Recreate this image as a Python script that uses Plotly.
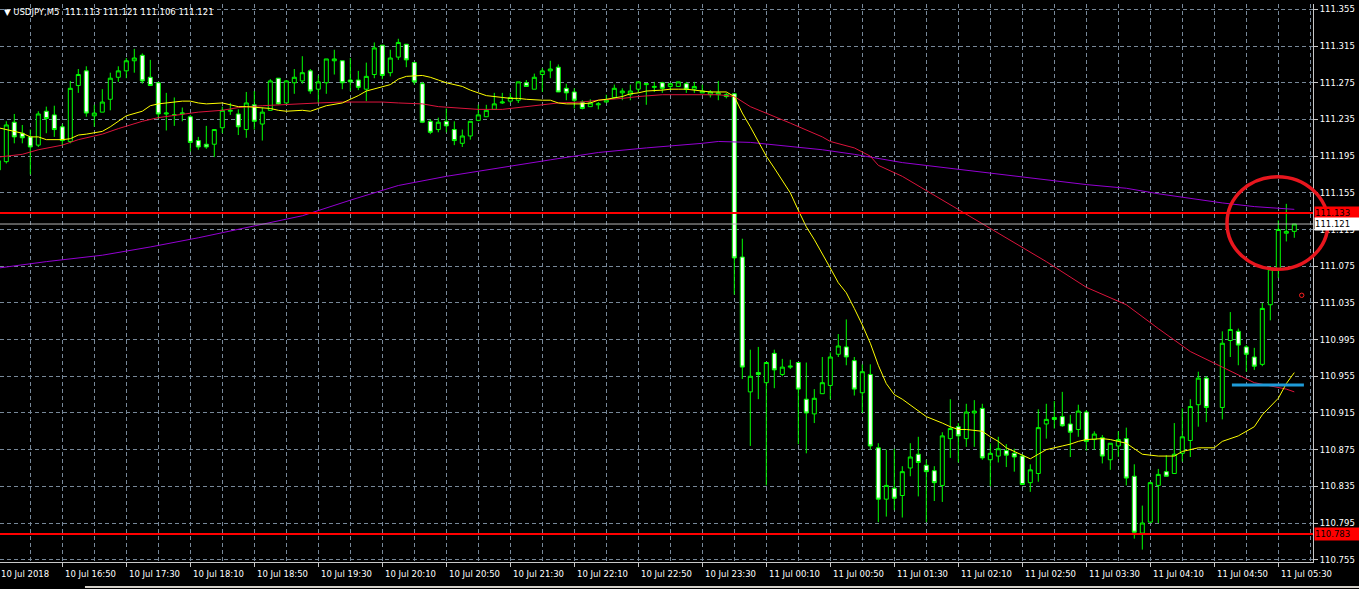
import plotly.graph_objects as go

# ---------------- data ----------------
candle_idx = list(range(163))  # M5 bars, 10 Jul 16:10 ... 11 Jul 05:40

opens = [
    111.180, 111.189, 111.232, 111.220, 111.216, 111.207, 111.244, 111.240, 111.227, 111.211,
    111.272, 111.288, 111.239, 111.243, 111.257, 111.281, 111.288, 111.299, 111.305, 111.281,
    111.275, 111.241, 111.240, 111.241, 111.238, 111.212, 111.208, 111.208, 111.226, 111.244,
    111.241, 111.224, 111.251, 111.230, 111.245, 111.280, 111.253, 111.275, 111.277, 111.288,
    111.268, 111.275, 111.299, 111.299, 111.278, 111.278, 111.268, 111.284, 111.316, 111.286,
    111.303, 111.317, 111.297, 111.274, 111.233, 111.224, 111.233, 111.224, 111.209, 111.217,
    111.234, 111.238, 111.246, 111.253, 111.255, 111.256, 111.275, 111.268, 111.284, 111.288,
    111.292, 111.269, 111.265, 111.254, 111.249, 111.251, 111.254, 111.259, 111.264, 111.262,
    111.268, 111.273, 111.270, 111.275, 111.271, 111.271, 111.274, 111.268, 111.264, 111.262,
    111.262, 111.262, 111.263, 111.085, 110.938, 110.959, 110.948, 110.980, 110.957, 110.965,
    110.970, 110.930, 110.914, 110.936, 110.945, 110.979, 110.987, 110.972, 110.937, 110.957,
    110.877, 110.821, 110.833, 110.825, 110.855, 110.870, 110.858, 110.852, 110.836, 110.887,
    110.900, 110.887, 110.915, 110.920, 110.864, 110.868, 110.874, 110.871, 110.868, 110.839,
    110.849, 110.903, 110.910, 110.911, 110.903, 110.897, 110.916, 110.886, 110.888, 110.864,
    110.879, 110.887, 110.846, 110.784, 110.796, 110.836, 110.851, 110.849, 110.871, 110.885,
    110.924, 110.953, None, 110.921, 110.994, 111.004, 110.987, 110.976, 110.968, 111.033,
    111.072, 111.111, 111.113]

highs = [
    111.193, 111.233, 111.241, 111.229, 111.224, 111.244, 111.249, 111.250, 111.230, 111.277,
    111.290, 111.293, 111.251, 111.268, 111.286, 111.293, 111.302, 111.312, 111.307, 111.300,
    111.276, 111.264, 111.259, 111.248, 111.240, 111.216, 111.228, 111.224, 111.249, 111.253,
    111.246, 111.265, 111.266, 111.248, 111.279, 111.280, 111.278, 111.290, 111.304, 111.290,
    111.283, 111.301, 111.311, 111.299, 111.302, 111.288, 111.297, 111.319, 111.316, 111.311,
    111.323, 111.317, 111.297, 111.276, 111.235, 111.237, 111.247, 111.233, 111.224, 111.233,
    111.251, 111.251, 111.264, 111.264, 111.264, 111.276, 111.278, 111.285, 111.291, 111.299,
    111.295, 111.274, 111.269, 111.256, 111.257, 111.254, 111.262, 111.273, 111.269, 111.273,
    111.276, 111.274, 111.276, 111.276, 111.275, 111.276, 111.276, 111.276, 111.273, 111.267,
    111.277, 111.264, 111.264, 111.105, 110.984, 110.987, 110.970, 110.984, 110.974, 110.973,
    110.970, 110.970, 110.941, 110.976, 110.981, 111.001, 111.017, 110.976, 110.968, 110.968,
    110.882, 110.875, 110.876, 110.857, 110.882, 110.889, 110.864, 110.857, 110.894, 110.930,
    110.904, 110.925, 110.929, 110.925, 110.882, 110.889, 110.881, 110.876, 110.870, 110.859,
    110.919, 110.925, 110.928, 110.938, 110.913, 110.924, 110.918, 110.895, 110.891, 110.882,
    110.895, 110.899, 110.859, 110.814, 110.840, 110.854, 110.869, 110.904, 110.920, 110.930,
    110.960, 110.955, None, 111.004, 111.025, 111.007, 110.989, 110.986, 111.035, 111.075,
    111.125, 111.143, 111.121]

lows = [
    111.178, 111.187, 111.209, 111.209, 111.175, 111.205, 111.220, 111.216, 111.207, 111.209,
    111.264, 111.238, 111.227, 111.243, 111.245, 111.276, 111.280, 111.286, 111.274, 111.272,
    111.236, 111.223, 111.228, 111.233, 111.200, 111.202, 111.203, 111.194, 111.220, 111.240,
    111.218, 111.215, 111.224, 111.212, 111.245, 111.251, 111.253, 111.263, 111.274, 111.263,
    111.253, 111.263, 111.284, 111.268, 111.266, 111.267, 111.255, 111.280, 111.279, 111.282,
    111.300, 111.292, 111.273, 111.231, 111.219, 111.221, 111.221, 111.207, 111.205, 111.213,
    111.233, 111.238, 111.246, 111.252, 111.253, 111.253, 111.271, 111.268, 111.265, 111.280,
    111.265, 111.256, 111.247, 111.246, 111.249, 111.246, 111.254, 111.258, 111.256, 111.256,
    111.264, 111.251, 111.265, 111.264, 111.267, 111.271, 111.264, 111.264, 111.264, 111.259,
    111.256, 111.258, 111.044, 110.952, 110.879, 110.930, 110.836, 110.942, 110.955, 110.963,
    110.881, 110.871, 110.904, 110.936, 110.930, 110.976, 110.967, 110.934, 110.915, 110.875,
    110.796, 110.802, 110.809, 110.801, 110.846, 110.824, 110.796, 110.819, 110.818, 110.866,
    110.861, 110.878, 110.878, 110.864, 110.835, 110.861, 110.856, 110.851, 110.837, 110.829,
    110.840, 110.887, 110.898, 110.900, 110.867, 110.889, 110.874, 110.875, 110.860, 110.853,
    110.867, 110.836, 110.778, 110.766, 110.795, 110.795, 110.846, 110.849, 110.862, 110.867,
    110.900, 110.905, None, 110.908, 110.976, 110.967, 110.960, 110.962, 110.966, 111.016,
    111.062, 111.102, 111.106]

closes = [
    111.190, 111.229, 111.216, 111.215, 111.205, 111.241, 111.236, 111.224, 111.212, 111.269,
    111.284, 111.242, 111.242, 111.254, 111.280, 111.288, 111.299, 111.302, 111.277, 111.272,
    111.241, 111.242, 111.240, 111.242, 111.210, 111.205, 111.205, 111.224, 111.245, 111.245,
    111.227, 111.253, 111.233, 111.243, 111.277, 111.252, 111.277, 111.281, 111.286, 111.266,
    111.276, 111.301, 111.301, 111.275, 111.276, 111.270, 111.282, 111.313, 111.283, 111.302,
    111.319, 111.300, 111.276, 111.232, 111.221, 111.232, 111.228, 111.212, 111.217, 111.233,
    111.240, 111.245, 111.252, 111.254, 111.259, 111.276, 111.271, 111.281, 111.288, 111.290,
    111.265, 111.264, 111.256, 111.247, 111.253, 111.252, 111.256, 111.269, 111.266, 111.266,
    111.276, 111.274, 111.271, 111.269, 111.274, 111.276, 111.268, 111.271, 111.266, 111.265,
    111.264, 111.260, 111.084, 110.965, 110.955, 110.957, 110.970, 110.962, 110.965, 110.966,
    110.941, 110.915, 110.931, 110.948, 110.976, 110.988, 110.976, 110.941, 110.960, 110.879,
    110.821, 110.836, 110.822, 110.851, 110.867, 110.861, 110.851, 110.839, 110.890, 110.898,
    110.890, 110.916, 110.917, 110.866, 110.871, 110.876, 110.869, 110.867, 110.837, 110.853,
    110.899, 110.908, 110.908, 110.901, 110.894, 110.917, 110.884, 110.892, 110.868, 110.882,
    110.886, 110.844, 110.785, 110.795, 110.839, 110.848, 110.846, 110.870, 110.889, 110.922,
    110.953, 110.921, None, 110.991, 111.006, 110.989, 110.979, 110.966, 111.029, 111.072,
    111.115, 111.113, 111.121]

# moving averages (read at bar positions)
fast_ma_idx = [0, 1, 3, 4, 5, 6, 8, 9, 10, 11, 13, 14, 15, 16, 18, 19, 20, 21, 23, 24, 25, 26, 28, 29, 30,
               31, 33, 34, 35, 36, 38, 39, 40, 41, 43, 44, 45, 46, 48, 49, 50, 51, 53, 54, 55, 56, 58, 59,
               60, 61, 63, 64, 65, 66, 68, 69, 70, 71, 73, 74, 75, 76, 78, 79, 80, 81, 83, 84, 85, 86, 88,
               89, 90, 91, 92, 93, 94, 95, 96, 97, 98, 99, 100, 101, 102, 103, 104, 105, 106, 107, 108,
               109, 110, 111, 112, 113, 114, 115, 116, 118, 119, 120, 121, 123, 124, 125, 126, 128, 129,
               130, 131, 133, 134, 135, 136, 138, 139, 141, 143, 145, 147, 148, 150, 152, 153, 155, 157,
               158, 160, 161, 162]
fast_ma = [111.226, 111.224, 111.220, 111.216, 111.216, 111.213, 111.213, 111.214, 111.218, 111.219,
           111.222, 111.227, 111.233, 111.239, 111.244, 111.250, 111.252, 111.253, 111.255, 111.255,
           111.253, 111.252, 111.253, 111.251, 111.249, 111.249, 111.248, 111.247, 111.245, 111.244,
           111.245, 111.244, 111.247, 111.250, 111.253, 111.257, 111.261, 111.266, 111.271, 111.273,
           111.279, 111.282, 111.283, 111.281, 111.278, 111.275, 111.271, 111.267, 111.264, 111.261,
           111.259, 111.258, 111.258, 111.257, 111.256, 111.256, 111.253, 111.252, 111.252, 111.253,
           111.256, 111.257, 111.260, 111.263, 111.264, 111.266, 111.267, 111.268, 111.268, 111.268,
           111.266, 111.265, 111.265, 111.265, 111.260, 111.242, 111.227, 111.211, 111.195, 111.182,
           111.169, 111.155, 111.136, 111.118, 111.104, 111.089, 111.073, 111.057, 111.046, 111.029,
           111.011, 110.991, 110.967, 110.947, 110.935, 110.930, 110.924, 110.918, 110.911, 110.904,
           110.900, 110.897, 110.897, 110.895, 110.889, 110.884, 110.877, 110.869, 110.865, 110.870,
           110.875, 110.879, 110.881, 110.884, 110.886, 110.887, 110.886, 110.882, 110.870, 110.868,
           110.868, 110.873, 110.877, 110.877, 110.884, 110.890, 110.900, 110.913, 110.931, 110.947,
           110.959]

mid_ma_idx = [0, 3, 5, 8, 10, 13, 15, 18, 20, 23, 25, 28, 30, 33, 35, 38, 40, 43, 45, 48, 50, 53, 55, 58,
              60, 63, 65, 68, 70, 73, 75, 78, 80, 83, 85, 88, 90, 92, 94, 99, 103, 104, 107, 109, 110, 113,
              119, 125, 131, 136, 141, 145, 149, 153, 157, 161, 162]
mid_ma = [111.194, 111.197, 111.202, 111.207, 111.213, 111.219, 111.225, 111.233, 111.237, 111.241,
          111.243, 111.245, 111.248, 111.250, 111.251, 111.252, 111.253, 111.254, 111.254, 111.254,
          111.253, 111.252, 111.249, 111.247, 111.246, 111.246, 111.248, 111.251, 111.253, 111.254,
          111.256, 111.258, 111.260, 111.262, 111.262, 111.262, 111.262, 111.260, 111.249, 111.231,
          111.216, 111.211, 111.204, 111.195, 111.185, 111.173, 111.142, 111.111, 111.080, 111.052,
          111.033, 111.007, 110.982, 110.965, 110.948, 110.941, 110.938]

slow_ma_idx = [0, 6, 13, 19, 25, 31, 38, 44, 50, 56, 63, 69, 75, 81, 88, 90, 94, 99, 103, 107, 109, 113,
               136, 141, 145, 149, 153, 157, 162]
slow_ma = [111.073, 111.080, 111.087, 111.096, 111.106, 111.117, 111.130, 111.147, 111.163, 111.173,
           111.183, 111.191, 111.199, 111.204, 111.209, 111.211, 111.210, 111.206, 111.202, 111.197,
           111.194, 111.188, 111.164, 111.160, 111.154, 111.149, 111.144, 111.140, 111.137]

label_idx = list(range(0, 161, 8))
time_labels = ["10 Jul 2018", "10 Jul 16:50", "10 Jul 17:30", "10 Jul 18:10", "10 Jul 18:50",
               "10 Jul 19:30", "10 Jul 20:10", "10 Jul 20:50", "10 Jul 21:30", "10 Jul 22:10",
               "10 Jul 22:50", "10 Jul 23:30", "11 Jul 00:10", "11 Jul 00:50", "11 Jul 01:30",
               "11 Jul 02:10", "11 Jul 02:50", "11 Jul 03:30", "11 Jul 04:10", "11 Jul 04:50",
               "11 Jul 05:30"]
price_ticks = [round(110.755 + 0.04 * i, 3) for i in range(16)]

resistance = 111.133
support = 110.783
bid = 111.121
blue_level = 110.9455
title_text = "\u25BC USDJPY,M5\u00a0\u00a0111.113 111.121 111.106 111.121"

# ---------------- styling ----------------
FONT = "DejaVu Sans"
GRID = "#778899"
AXIS = "#c8c8c8"
LIME = "#00ff00"
X_RANGE = [0.2125, 164.3375]

fig = go.Figure()

fig.add_trace(go.Candlestick(
    x=candle_idx, open=opens, high=highs, low=lows, close=closes,
    increasing=dict(line=dict(color=LIME, width=1), fillcolor="#000000"),
    decreasing=dict(line=dict(color=LIME, width=1), fillcolor="#ffffff"),
    whiskerwidth=0, showlegend=False, hoverinfo="skip",
))
fig.add_trace(go.Scatter(x=slow_ma_idx, y=slow_ma, mode="lines",
                         line=dict(color="#9400d3", width=1), showlegend=False, hoverinfo="skip"))
fig.add_trace(go.Scatter(x=mid_ma_idx, y=mid_ma, mode="lines",
                         line=dict(color="#dc143c", width=1), showlegend=False, hoverinfo="skip"))
fig.add_trace(go.Scatter(x=fast_ma_idx, y=fast_ma, mode="lines",
                         line=dict(color="#ffff00", width=1), showlegend=False, hoverinfo="skip"))

shapes = [
    dict(type="line", xref="paper", yref="y", x0=0, x1=1, y0=bid, y1=bid,
         line=dict(color="#b4b4b4", width=1)),
    dict(type="line", xref="paper", yref="y", x0=0, x1=1, y0=resistance, y1=resistance,
         line=dict(color="#ff0000", width=2)),
    dict(type="line", xref="paper", yref="y", x0=0, x1=1, y0=support, y1=support,
         line=dict(color="#ff0000", width=2)),
    dict(type="line", xref="x", yref="y", x0=154.2, x1=163.2, y0=blue_level, y1=blue_level,
         line=dict(color="#1f9bd8", width=3)),
    dict(type="circle", xref="paper", yref="y", x0=0.9345, x1=1.0114, y0=111.0716, y1=111.1726,
         line=dict(color="#e8161e", width=3.5)),
    dict(type="circle", xref="x", yref="y", xsizemode="pixel", ysizemode="pixel",
         xanchor=162.93, yanchor=111.0433, x0=-2.2, x1=2.2, y0=-2.2, y1=2.2,
         line=dict(color="#ff2020", width=1)),
    dict(type="line", xref="paper", yref="paper", x0=0.0647, x1=1.04, y0=-0.0448, y1=-0.0448,
         line=dict(color="#d4d0c8", width=2)),
]

annotations = []
span = X_RANGE[1] - X_RANGE[0]
for i, t in zip(label_idx, time_labels):
    # paper position derived from the bar index so the first (partly clipped) label still shows
    annotations.append(dict(x=(i - X_RANGE[0]) / span, xref="paper", y=0, yref="paper",
                            yanchor="top", xanchor="left", yshift=-5, xshift=1, text=t,
                            showarrow=False, font=dict(family=FONT, size=8.5, color="#ffffff")))
for price, bg, fg in [(resistance, "#ff0000", "#000000"), (bid, "#ffffff", "#000000"),
                      (support, "#ff0000", "#000000")]:
    annotations.append(dict(x=1, xref="paper", y=price, yref="y", xanchor="left", yanchor="middle",
                            xshift=1, text=f"{price:.3f}", showarrow=False, bgcolor=bg,
                            borderpad=0, width=44, height=12, align="left",
                            font=dict(family=FONT, size=8.5, color=fg)))
annotations.append(dict(x=0, xref="paper", y=1, yref="paper", xanchor="left", yanchor="middle",
                        xshift=2, yshift=-8, text=title_text, showarrow=False,
                        font=dict(family=FONT, size=8.5, color="#ffffff")))

fig.update_layout(
    width=1359, height=589, autosize=False,
    margin=dict(l=0, r=46, t=4, b=27),
    paper_bgcolor="#000000", plot_bgcolor="#000000",
    boxgap=0.5, boxgroupgap=0,
    shapes=shapes, annotations=annotations,
    showlegend=False,
    xaxis=dict(range=X_RANGE, rangeslider=dict(visible=False),
               tickmode="array", tickvals=label_idx, showticklabels=False,
               ticks="outside", ticklen=4, tickcolor=AXIS,
               showgrid=True, gridcolor=GRID, griddash="4px,3px", gridwidth=1,
               minor=dict(tickmode="linear", tick0=0, dtick=4, showgrid=True, gridcolor=GRID,
                          griddash="4px,3px", gridwidth=1, ticks=""),
               showline=True, linecolor=AXIS, linewidth=1, zeroline=False, fixedrange=True),
    yaxis=dict(range=[110.7525, 111.3609], side="right",
               tickmode="array", tickvals=price_ticks, ticktext=[f"{v:.3f}" for v in price_ticks],
               ticks="outside", ticklen=4, tickcolor=AXIS,
               tickfont=dict(family=FONT, size=8.5, color="#ffffff"),
               showgrid=True, gridcolor=GRID, griddash="4px,3px", gridwidth=1,
               showline=True, linecolor=AXIS, linewidth=1, zeroline=False, fixedrange=True),
)

page_fix = ("document.body.style.margin='0';document.body.style.padding='0';"
            "document.body.style.background='#000';document.body.style.overflow='hidden';")

fig.write_html("out.html", post_script=page_fix, config={"displayModeBar": False})
